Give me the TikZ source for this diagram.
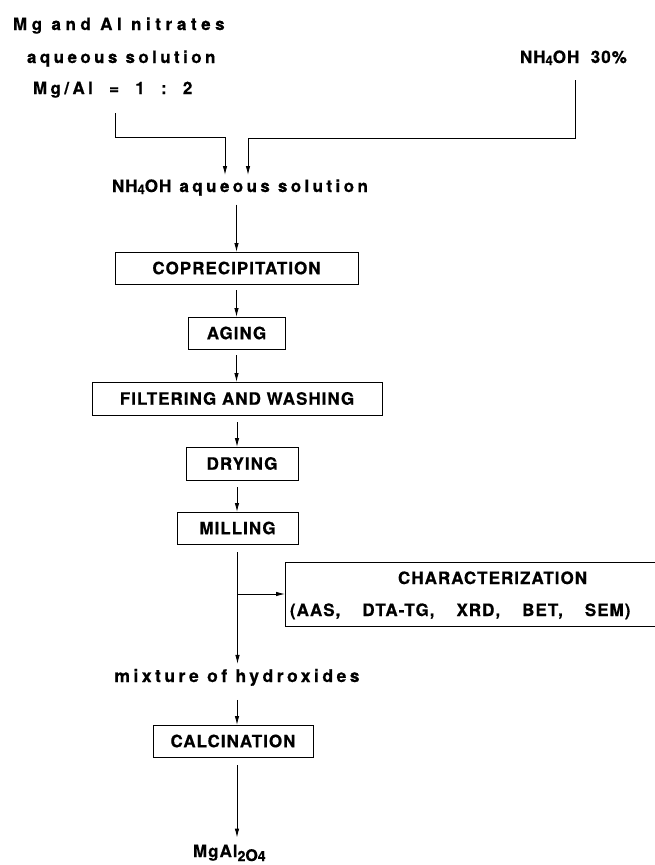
\documentclass[tikz,border=0pt]{standalone}
\usepackage{fontspec}
\setmainfont{TeX Gyre Heros}
\newfontfamily\lowf[LetterSpace=20,BoldFeatures={FakeBold=0.6}]{TeX Gyre Heros}
\newfontfamily\lowfw[LetterSpace=27,BoldFeatures={FakeBold=0.6}]{TeX Gyre Heros}
\newfontfamily\capf[LetterSpace=6,BoldFeatures={FakeBold=0.6}]{TeX Gyre Heros}
\usetikzlibrary{arrows.meta}
\begin{document}
\begin{tikzpicture}[x=1pt,y=-1pt,
  lbl/.style={inner sep=0pt,outer sep=0pt,font=\lowf\bfseries\fontsize{17}{20}\selectfont},
  capl/.style={inner sep=0pt,outer sep=0pt,font=\capf\bfseries\fontsize{17}{20}\selectfont},
  box/.style={draw,line width=0.9pt,inner sep=0pt,outer sep=0pt,font=\capf\bfseries\fontsize{17}{20}\selectfont},
  arr/.style={line width=0.9pt,-{Latex[length=9pt,width=4.5pt]}},
  ln/.style={line width=0.9pt}]
\useasboundingbox (0,0) rectangle (654,865);

% top texts
\node[lbl,font=\lowfw\bfseries\fontsize{17}{20}\selectfont,anchor=base west] (t1) at (13,30) {Mg and Al nitrates};
\node[lbl,anchor=base west] (t2) at (27,63) {aqueous solution};
\node[lbl,anchor=base west] (t3) at (33,94) {Mg/Al \ =\ \ 1\ \ :\ \ 2};
\node[capl,anchor=base west] (t4) at (520,63) {NH\raisebox{-2pt}{\fontsize{13}{13}\selectfont 4}OH\ \ 30\%};
\node[lbl,anchor=base west] (nh) at (112,192) {{\capf NH\raisebox{-2pt}{\fontsize{13}{13}\selectfont 4}OH} aqueous solution};

% boxes
\node[box,minimum width=243pt,minimum height=32pt] (copre) at (236.5,268) {COPRECIPITATION};
\node[box,minimum width=97pt,minimum height=32pt] (aging) at (236.5,333) {AGING};
\node[box,minimum width=290pt,minimum height=33pt] (filt) at (237,398.5) {FILTERING AND WASHING};
\node[box,minimum width=112pt,minimum height=33pt] (dry) at (242,463.5) {DRYING};
\node[box,minimum width=121pt,minimum height=32pt] (mill) at (237.5,528) {MILLING};
\node[box,minimum width=375pt,minimum height=64pt] (char) at (472.5,594) {};
\node[capl,anchor=base west] (char1) at (398,584) {CHARACTERIZATION};
\node[capl,anchor=base west] (char2) at (290,616) {(AAS,\hspace{22pt}DTA-TG,\hspace{22pt}XRD,\hspace{22pt}BET,\hspace{22pt}SEM)};
\node[lbl,font=\lowf\bfseries\fontsize{17.5}{20}\selectfont,anchor=base] (mix) at (237,682) {mixture of hydroxides};
\node[box,minimum width=160pt,minimum height=32pt] (calc) at (233,741) {CALCINATION};
\node[capl,anchor=base west] (prod) at (193,857) {MgAl\raisebox{-4pt}{\fontsize{14}{14}\selectfont 2\fontsize{16}{16}\selectfont O\fontsize{14}{14}\selectfont 4}};

% input connectors
\coordinate (l1) at (115,113);
\coordinate (l2) at (225,175);
\coordinate (lh) at (0,137);
\coordinate (r1) at (575,80);
\coordinate (r2) at (248,175);
\coordinate (rh) at (0,138);
\draw[arr] (l1) -- (l1 |- lh) -- (l2 |- lh) -- (l2);
\draw[arr] (r1) -- (r1 |- rh) -- (r2 |- rh) -- (r2);

% main flow
\draw[arr,shorten <=9pt] (copre.north |- nh.south) -- (copre.north);
\draw[arr,shorten <=6pt] (copre.south) -- (aging.north);
\draw[arr,shorten <=6pt] (aging.south) -- (aging.south |- filt.north);
\draw[arr,shorten <=7pt] (filt.south) -- (filt.south |- dry.north);
\draw[arr,shorten <=7pt] (filt.south |- dry.south) -- (filt.south |- mill.north);
\draw[arr,shorten <=8pt,shorten >=5pt] (mill.south) -- (mill.south |- mix.north);
\coordinate (br) at (mill.south |- char.west);
\draw[arr] (br) -- (char.west);
\draw[arr,shorten <=14pt] (mix.south -| calc.north) ++(4,0) -- ([xshift=4pt]calc.north);
\draw[arr,shorten <=8pt,shorten >=7pt] ([xshift=4pt]calc.south) -- ([xshift=4pt]calc.south |- prod.north);
\end{tikzpicture}
\end{document}
